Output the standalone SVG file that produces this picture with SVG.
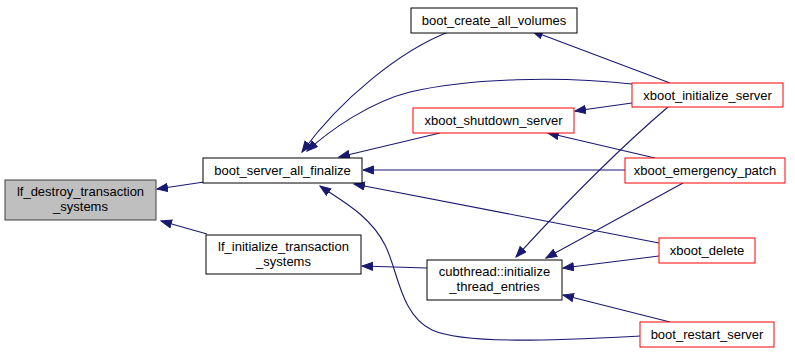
<svg xmlns="http://www.w3.org/2000/svg" width="795" height="358" viewBox="0 0 795 358">
  <style>
    .node rect { fill: #ffffff; stroke: #000000; stroke-width: 1; }
    .node.root rect { fill: #bfbfbf; stroke: #404040; }
    .node.ext rect { stroke: #ff0000; }
    .node text { font-family: "Liberation Sans", Arial, Helvetica, sans-serif; font-size: 13px; fill: #000000; text-anchor: middle; }
    .edges path { fill: none; stroke: #191970; stroke-width: 1.1; marker-end: url(#arrow); }
  </style>
  <defs>
    <marker id="arrow" markerUnits="userSpaceOnUse" markerWidth="13" markerHeight="10" refX="11" refY="4.5" orient="auto">
      <path d="M0.5,0.5 L11,4.5 L0.5,8.5 z" fill="#191970" stroke="#191970" stroke-width="1"/>
    </marker>
  </defs>
  <rect width="795" height="358" fill="#ffffff"/>

  <g class="edges" id="edges">
    <path d="M204,182 L157,189"/>
    <path d="M207,234 L161,221"/>
    <path d="M451,31 C400,50 340,100 302,152"/>
    <path d="M632,84 C560,76 470,78 410,92 C370,102 330,130 307,151"/>
    <path d="M440,133 L339,157"/>
    <path d="M625,170 L363,170"/>
    <path d="M659,243 L354,184"/>
    <path d="M640,336 C560,340 465,345 432,330 C400,315 398,270 385,245 C370,215 340,200 320,186"/>
    <path d="M427,268 L362,266"/>
    <path d="M670,83 L532,31"/>
    <path d="M632,103 L575,111"/>
    <path d="M655,158 L548,133"/>
    <path d="M668,107 Q600,165 516,257"/>
    <path d="M683,183 L546,258"/>
    <path d="M659,256 L563,268"/>
    <path d="M670,322 L563,295"/>
  </g>

  <g class="node root" id="lf_destroy_transaction_systems">
    <rect x="5" y="180" width="151" height="40"/>
    <text x="80.5" y="196">lf_destroy_transaction</text>
    <text x="80.5" y="211">_systems</text>
  </g>
  <g class="node" id="boot_server_all_finalize">
    <rect x="203" y="158" width="159" height="25"/>
    <text x="282.5" y="175">boot_server_all_finalize</text>
  </g>
  <g class="node" id="lf_initialize_transaction_systems">
    <rect x="206" y="235" width="155" height="39"/>
    <text x="283.5" y="251">lf_initialize_transaction</text>
    <text x="283.5" y="266">_systems</text>
  </g>
  <g class="node" id="boot_create_all_volumes">
    <rect x="411" y="8" width="166" height="25"/>
    <text x="494" y="25">boot_create_all_volumes</text>
  </g>
  <g class="node ext" id="xboot_shutdown_server">
    <rect x="413" y="108" width="161" height="25"/>
    <text x="493.5" y="125">xboot_shutdown_server</text>
  </g>
  <g class="node" id="cubthread_initialize_thread_entries">
    <rect x="427" y="260" width="135" height="40"/>
    <text x="494.5" y="276">cubthread::initialize</text>
    <text x="494.5" y="291">_thread_entries</text>
  </g>
  <g class="node ext" id="xboot_initialize_server">
    <rect x="632" y="83" width="151" height="24"/>
    <text x="707.5" y="100">xboot_initialize_server</text>
  </g>
  <g class="node ext" id="xboot_emergency_patch">
    <rect x="625" y="158" width="160" height="25"/>
    <text x="705" y="175">xboot_emergency_patch</text>
  </g>
  <g class="node ext" id="xboot_delete">
    <rect x="659" y="238" width="96" height="25"/>
    <text x="707" y="255">xboot_delete</text>
  </g>
  <g class="node ext" id="boot_restart_server">
    <rect x="640" y="322" width="134" height="25"/>
    <text x="707" y="339">boot_restart_server</text>
  </g>
</svg>
